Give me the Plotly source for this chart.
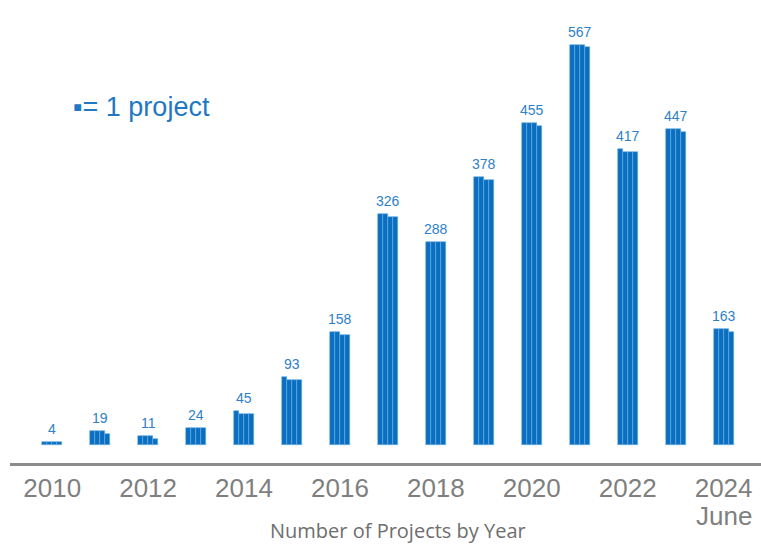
import plotly.graph_objects as go

# Projects per year (2024 covers January–June)
years = list(range(2010, 2025))
projects = [4, 19, 11, 24, 45, 93, 158, 326, 288, 378, 455, 567, 417, 447, 163]
tick_years = [2010, 2012, 2014, 2016, 2018, 2020, 2022, 2024]
tick_text = ["2010", "2012", "2014", "2016", "2018", "2020", "2022", "2024"]
partial_year_note = "June"

N_COLS = 4          # each bar is a block of unit squares, 4 squares wide
COL_W = 0.104       # width of one unit column in year units

BAR_BLUE = "#0A6FC0"
SEP_BLUE = "#6AAEE4"
LABEL_BLUE = "#2F80C6"
GRAY = "#7F7F7F"
TICK_FONT = dict(family="Liberation Sans, Arial, sans-serif", size=26, color=GRAY)


def column_heights(n, cols=N_COLS):
    base, extra = divmod(n, cols)
    return [base + (1 if j < extra else 0) for j in range(cols)]


heights = [column_heights(n) for n in projects]

fig = go.Figure()
for j in range(N_COLS):
    fig.add_trace(go.Bar(
        x=[y + (j - (N_COLS - 1) / 2) * COL_W for y in years],
        y=[h[j] for h in heights],
        width=COL_W,
        marker=dict(color=BAR_BLUE, line=dict(color=SEP_BLUE, width=0.6)),
        hoverinfo="skip",
        showlegend=False,
    ))

# value labels above each block
for yr, n, h in zip(years, projects, heights):
    fig.add_annotation(
        x=yr, y=max(h), text=str(n), showarrow=False,
        yanchor="bottom", yshift=3,
        font=dict(family="Liberation Sans, Arial, sans-serif", size=14, color=LABEL_BLUE),
    )

# second line under the last year's tick label
fig.add_annotation(
    x=tick_years[-1], xref="x", yref="paper", y=-0.119, yanchor="middle",
    text=partial_year_note, showarrow=False, font=TICK_FONT,
)

# unit key
fig.add_annotation(
    xref="paper", yref="paper", x=0.081, y=0.804, xanchor="left", yanchor="middle",
    text="\u25aa= 1 project", showarrow=False,
    font=dict(family="Liberation Sans, Arial, sans-serif", size=27, color="#1F78C4"),
)

# chart caption
fig.add_annotation(
    xref="paper", yref="paper", x=0.517, y=-0.153, xanchor="center", yanchor="middle",
    text="Number of Projects by Year", showarrow=False,
    font=dict(family="Open Sans, sans-serif", size=20, color="#6E6E6E"),
)

fig.update_layout(
    width=761, height=545,
    margin=dict(l=10, r=0, t=20, b=82),
    plot_bgcolor="white", paper_bgcolor="white",
    bargap=0, barmode="overlay",
    xaxis=dict(
        range=[2009.12, 2024.78],
        tickvals=tick_years, ticktext=tick_text,
        showgrid=False, zeroline=False,
        showline=True, linecolor="#8C8C8C", linewidth=3,
        ticks="", tickfont=TICK_FONT,
    ),
    yaxis=dict(
        range=[-6.4, 150.7],
        visible=False, showgrid=False, zeroline=False,
    ),
)

fig.write_html("out.html")
